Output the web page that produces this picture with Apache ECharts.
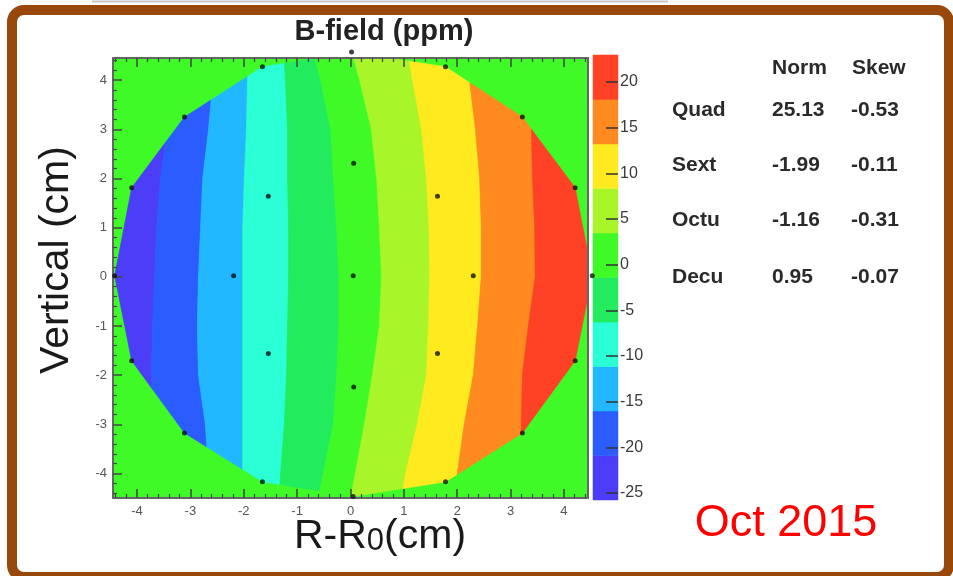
<!DOCTYPE html>
<html><head><meta charset="utf-8">
<script src="https://cdn.jsdelivr.net/npm/echarts@6/dist/echarts.min.js"></script>
<style>html,body{margin:0;padding:0;background:#fff}#c{width:953px;height:576px}</style>
</head><body><div id="c"></div>
<script>
// ---- data ----
const levels = [-25.77, -20.90, -16.02, -11.15, -6.28, -1.40, 3.47, 8.35, 13.22, 18.09, 22.96];
const bandColors = ['#4b3df8','#2a5cff','#22b8ff','#2affd6','#22ec5e','#40fa28','#a8f52a','#ffea20','#ff8a20','#ff4125'];
const colorbarTicks = [-25,-20,-15,-10,-5,0,5,10,15,20];
const axisTicks = [-4,-3,-2,-1,0,1,2,3,4];
// contour boundary x positions (cm) at these y samples (cm)
const contourY = [4.6, 4, 3, 2, 1, 0, -1, -2, -3, -4, -4.6];
const edge1 = [-3.24,-3.30,-3.43,-3.56,-3.63,-3.67,-3.71,-3.73,-3.73,-3.71,-3.69];
const edge2 = [-2.53,-2.58,-2.66,-2.77,-2.81,-2.85,-2.87,-2.85,-2.72,-2.66,-2.62];
const edge3 = [-1.91,-1.93,-1.95,-1.99,-2.02,-2.02,-2.02,-2.02,-2.02,-2.02,-2.02];
const edge4 = [-1.25,-1.22,-1.18,-1.18,-1.16,-1.16,-1.18,-1.20,-1.24,-1.31,-1.35];
const edge5 = [-0.70,-0.56,-0.37,-0.32,-0.26,-0.22,-0.22,-0.26,-0.32,-0.51,-0.62];
const edge6 = [0.02,0.17,0.39,0.49,0.54,0.58,0.54,0.41,0.26,0.09,-0.02];
const edge7 = [1.07,1.16,1.33,1.42,1.47,1.48,1.46,1.42,1.25,1.03,0.94];
const edge8 = [2.17,2.23,2.34,2.42,2.45,2.45,2.38,2.30,2.13,2.00,1.95];
const edge9 = [3.31,3.35,3.39,3.41,3.45,3.46,3.33,3.22,3.20,3.20,3.20];
// probe positions (cm)
const probeX = [0.05, 2.30,1.63,0.06,-1.54,-2.19,-1.54,0.06,1.63,
  4.53,4.21,3.22,1.78,0.02,-1.65,-3.11,-4.10,-4.42,-4.10,-3.11,-1.65,0.05,1.78,3.22,4.21];
const probeY = [0.02, 0.02,1.64,2.31,1.64,0.02,-1.56,-2.24,-1.56,
  0.02,1.81,3.25,4.27,4.57,4.27,3.25,1.81,0.02,-1.71,-3.18,-4.17,-4.47,-4.17,-3.18,-1.71];
// multipole table
const tableHead = ['Norm','Skew'];
const tableRows = ['Quad','Sext','Octu','Decu'];
const normVals = ['25.13','-1.99','-1.16','0.95'];
const skewVals = ['-0.53','-0.11','-0.31','-0.07'];

// ---- layout ----
const xMin = -4.45, xMax = 4.45, yMin = -4.5, yMax = 4.45;
const FONT = '"Liberation Sans", Arial, Helvetica, sans-serif';
const edges = [edge1,edge2,edge3,edge4,edge5,edge6,edge7,edge8,edge9];

function minorList(lo, hi){ const r=[]; for(let k=Math.round(lo*5);k<=Math.round(hi*5);k++){ if(k%5!==0) r.push(k/5);} return r; }
const minorX = minorList(-4.4, 4.4), minorY = minorList(-4.4, 4.4);

function clipPoly(subject, clip){
  let out = subject;
  for (let i=0;i<clip.length;i++){
    const a = clip[i], b = clip[(i+1)%clip.length];
    const inp = out; out = [];
    if (!inp.length) break;
    const side = p => (b[0]-a[0])*(p[1]-a[1]) - (b[1]-a[1])*(p[0]-a[0]);
    for (let j=0;j<inp.length;j++){
      const p = inp[j], q = inp[(j+1)%inp.length];
      const dp = side(p), dq = side(q);
      if (dp >= 0) out.push(p);
      if ((dp >= 0) !== (dq >= 0)) { const t = dp/(dp-dq); out.push([p[0]+t*(q[0]-p[0]), p[1]+t*(q[1]-p[1])]); }
    }
  }
  return out;
}
// measured region = hull of outer probes, clipped to frame
const outer = probeX.map((x,i)=>[x,probeY[i]]).filter(p=>Math.hypot(p[0],p[1])>3.5)
  .sort((a,b)=>Math.atan2(a[1],a[0])-Math.atan2(b[1],b[0]));
const frameRect = [[xMin,yMin],[xMax,yMin],[xMax,yMax],[xMin,yMax]];
const region = clipPoly(outer, frameRect);

function bandPoly(i){
  const left = i===0 ? contourY.map(y=>[xMin-1,y]) : contourY.map((y,k)=>[edges[i-1][k],y]);
  const right = i===bandColors.length-1 ? contourY.map(y=>[xMax+1,y]) : contourY.map((y,k)=>[edges[i][k],y]);
  return left.concat(right.slice().reverse());
}

const chart = echarts.init(document.getElementById('c'), null, {renderer:'canvas'});
const frameLine = {show:true, onZero:false, lineStyle:{color:'#666', width:2}};
const noLine = {show:false, onZero:false};
const majorTick = {show:true, inside:true, length:9, customValues:axisTicks, lineStyle:{color:'#444', width:1.5}};
const minorTick = (vals)=>({show:true, inside:true, length:4, customValues:vals, lineStyle:{color:'#444', width:1.2}});
const axLabel = {show:true, customValues:axisTicks, fontSize:13, color:'#555', fontFamily:FONT};
const TBL = 21;
function tText(t, x, y){
  return {type:'text', silent:true, x:x, y:y, style:{text:t, fontSize:TBL, fontWeight:'bold', fontFamily:FONT, fill:'#2a2a2a',
    align:'left', verticalAlign:'middle', textAlign:'left', textVerticalAlign:'middle'}};
}
const rowY = [110,165,220,277];

const option = {
  animation:false,
  backgroundColor:'#fff',
  grid:[
    {left:113, top:58, width:475, height:440, show:true, backgroundColor:'#40fa28', borderWidth:0},
    {left:593, top:55, width:25, height:445, show:false}
  ],
  xAxis:[
    {gridIndex:0, type:'value', min:xMin, max:xMax, position:'bottom', z:5, axisLine:frameLine, axisTick:majorTick,
     axisLabel:Object.assign({margin:7}, axLabel), splitLine:{show:false}},
    {gridIndex:0, type:'value', min:xMin, max:xMax, position:'bottom', z:5, axisLine:noLine,
     axisTick:minorTick(minorX), axisLabel:{show:false}, splitLine:{show:false}},
    {gridIndex:0, type:'value', min:xMin, max:xMax, position:'top', z:5, axisLine:frameLine, axisTick:majorTick, axisLabel:{show:false}, splitLine:{show:false}},
    {gridIndex:0, type:'value', min:xMin, max:xMax, position:'top', z:5, axisLine:noLine,
     axisTick:minorTick(minorX), axisLabel:{show:false}, splitLine:{show:false}},
    {gridIndex:1, type:'value', min:0, max:1, show:false, axisLine:noLine}
  ],
  yAxis:[
    {gridIndex:0, type:'value', min:yMin, max:yMax, position:'left', z:5, axisLine:frameLine, axisTick:majorTick,
     axisLabel:Object.assign({margin:6}, axLabel), splitLine:{show:false}},
    {gridIndex:0, type:'value', min:yMin, max:yMax, position:'left', z:5, axisLine:noLine,
     axisTick:minorTick(minorY), axisLabel:{show:false}, splitLine:{show:false}},
    {gridIndex:0, type:'value', min:yMin, max:yMax, position:'right', z:5, axisLine:frameLine, axisTick:{show:false}, axisLabel:{show:false}, splitLine:{show:false}},
    {gridIndex:1, type:'value', min:levels[0], max:levels[levels.length-1], position:'right', z:5, axisLine:noLine,
     axisTick:{show:true, inside:true, length:12, customValues:colorbarTicks, lineStyle:{color:'#333', width:1.5}},
     axisLabel:{show:true, customValues:colorbarTicks, fontSize:16, color:'#3a3a3a', margin:2, fontFamily:FONT}, splitLine:{show:false}}
  ],
  series:[
    {type:'custom', xAxisIndex:0, yAxisIndex:0, z:2, silent:true,
     data: bandColors.map(()=>[0,0]),
     renderItem:(params, api)=>{
       const i = params.dataIndex;
       const poly = clipPoly(bandPoly(i), region);
       if (poly.length < 3) return null;
       return {type:'polygon', shape:{points: poly.map(p=>api.coord(p))},
               style:{fill:bandColors[i], stroke:bandColors[i], lineWidth:0.6}};
     }},
    {type:'scatter', xAxisIndex:0, yAxisIndex:0, z:10, silent:true, clip:false,
     data: probeX.map((x,i)=>[x,probeY[i]]), symbol:'circle', symbolSize:5,
     itemStyle:{color:'#111'}},
    {type:'custom', xAxisIndex:4, yAxisIndex:3, z:2, silent:true,
     data: bandColors.map(()=>[0,0]),
     renderItem:(params, api)=>{
       const i = params.dataIndex;
       const p0 = api.coord([0, levels[i]]), p1 = api.coord([1, levels[i+1]]);
       return {type:'rect', shape:{x:p0[0], y:p1[1], width:p1[0]-p0[0], height:p0[1]-p1[1]},
               style:{fill:bandColors[i], stroke:bandColors[i], lineWidth:0.5}};
     }}
  ],
  graphic:[
    {type:'rect', z:0, silent:true, shape:{x:12, y:10, width:937, height:567, r:12},
     style:{fill:'none', stroke:'#98480a', lineWidth:10}},
    {type:'line', silent:true, shape:{x1:92, y1:1.5, x2:668, y2:1.5}, style:{stroke:'#c8c8c8', lineWidth:2}},
    {type:'text', silent:true, x:384, y:32, style:{text:'B-field (ppm)', fontSize:29, fontWeight:'bold', fontFamily:FONT,
      fill:'#222', align:'center', verticalAlign:'middle', textAlign:'center', textVerticalAlign:'middle'}},
    {type:'text', silent:true, x:57, y:260, rotation:Math.PI/2, style:{text:'Vertical (cm)', fontSize:41, fontFamily:FONT,
      fill:'#1a1a1a', align:'center', verticalAlign:'middle', textAlign:'center', textVerticalAlign:'middle'}},
    {type:'text', silent:true, x:380, y:537, style:{text:'{a|R-R}{b|0}{a|(cm)}', fontSize:41, fontFamily:FONT, fill:'#1a1a1a',
      align:'center', verticalAlign:'middle', textAlign:'center', textVerticalAlign:'middle',
      rich:{a:{fontSize:41, fontFamily:FONT, fill:'#1a1a1a', color:'#1a1a1a'}, b:{fontSize:31, fontFamily:FONT, fill:'#1a1a1a', color:'#1a1a1a', padding:[8,0,0,0]}}}},
    {type:'text', silent:true, x:786, y:524, style:{text:'Oct 2015', fontSize:45, fontFamily:FONT, fill:'#ff0000',
      align:'center', verticalAlign:'middle', textAlign:'center', textVerticalAlign:'middle'}}
  ].concat(
    tableHead.map((t,j)=>tText(t, [772,852][j], 68)),
    tableRows.map((t,j)=>tText(t, 672, rowY[j])),
    normVals.map((t,j)=>tText(t, 772, rowY[j])),
    skewVals.map((t,j)=>tText(t, 851, rowY[j]))
  )
};
chart.setOption(option);
</script>
</body></html>
